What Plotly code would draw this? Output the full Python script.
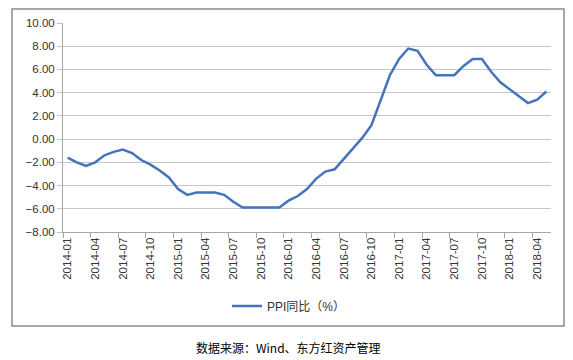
import plotly.graph_objects as go

months = [f"{y}-{m:02d}" for y in range(2014, 2019) for m in range(1, 13)][:53]
ppi = [
    -1.6, -2.0, -2.3, -2.0, -1.4, -1.1, -0.9, -1.2, -1.8, -2.2, -2.7, -3.3,
    -4.3, -4.8, -4.6, -4.6, -4.6, -4.8, -5.4, -5.9, -5.9, -5.9, -5.9, -5.9,
    -5.3, -4.9, -4.3, -3.4, -2.8, -2.6, -1.7, -0.8, 0.1, 1.2, 3.3, 5.5,
    6.9, 7.8, 7.6, 6.4, 5.5, 5.5, 5.5, 6.3, 6.9, 6.9, 5.8, 4.9,
    4.3, 3.7, 3.1, 3.4, 4.1,
]
series_name = "PPI同比（%）"
source_text = "数据来源：Wind、东方红资产管理"

# the page body has an 8px default margin; lay out in page pixels and offset
OFF = 8
W, H = 573 - OFF, 360 - OFF
L, R, T, B = 63, 551, 23, 232          # plot area in page pixels
pw, ph = R - L, B - T


def px(x):
    return (x - L) / pw


def py(y):
    return (B - y) / ph


fig = go.Figure()
fig.add_trace(go.Scatter(
    x=months, y=ppi, mode="lines", name=series_name,
    line=dict(color="#4474BC", width=2.5),
))

font_lat = "Liberation Sans, Arial, sans-serif"
fig.update_layout(
    width=W, height=H,
    margin=dict(l=L - OFF, r=(W + OFF) - R, t=T - OFF, b=(H + OFF) - B, autoexpand=False),
    paper_bgcolor="white", plot_bgcolor="white",
    font=dict(family=font_lat, size=11.5, color="#333333"),
    showlegend=True,
    legend=dict(
        orientation="h", x=px(289), xanchor="center", y=py(306), yanchor="middle",
        font=dict(family="Liberation Sans, Noto Sans CJK SC", size=12, color="#333333"),
        bgcolor="rgba(0,0,0,0)",
    ),
    xaxis=dict(
        type="category", range=[-0.5, len(months) - 0.5],
        tickmode="linear", tick0=0, dtick=3, tickangle=-90,
        tickson="boundaries", ticks="outside", ticklen=5, tickcolor="#A6A6A6",
        showline=True, linecolor="#A6A6A6", linewidth=1, automargin=False,
        showgrid=False, tickfont=dict(size=11.5, color="#333333"),
    ),
    yaxis=dict(
        range=[-8, 10], tickmode="linear", tick0=-8, dtick=2, tickformat=".2f",
        showgrid=True, gridcolor="#C6C6C6", gridwidth=1, zeroline=False,
        ticks="outside", ticklen=5, tickcolor="#C6C6C6", automargin=False,
        showline=True, linecolor="#A6A6A6", linewidth=1,
        tickfont=dict(size=11.5, color="#333333"),
    ),
    shapes=[dict(
        type="rect", xref="paper", yref="paper",
        x0=px(12), x1=px(564), y0=py(326), y1=py(9),
        line=dict(color="#8C8C8C", width=1.5), fillcolor="rgba(0,0,0,0)", layer="below",
    )],
    annotations=[dict(
        text=source_text, xref="paper", yref="paper",
        x=px(288), y=py(347), xanchor="center", yanchor="middle", showarrow=False,
        font=dict(family="Noto Sans CJK SC", size=12, color="#000000"),
    )],
)

fig.write_html("out.html")
